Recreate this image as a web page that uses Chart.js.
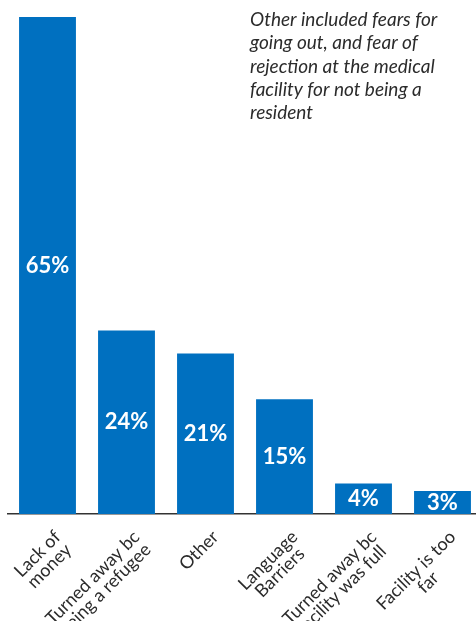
<!DOCTYPE html>
<html>
<head>
<meta charset="utf-8">
<script src="https://cdn.jsdelivr.net/npm/chart.js@4"></script>
<style>
  html, body { margin: 0; padding: 0; background: #fff; overflow: hidden; }
  #wrap { position: relative; width: 482px; height: 621px; }
</style>
</head>
<body>
<div id="wrap"><canvas id="chart"></canvas></div>
<script>
// Lý do không đi khám
const categories = [
  ['Lack of', 'money'],
  ['Turned away bc', 'being a refugee'],
  ['Other'],
  ['Language', 'Barriers'],
  ['Turned away bc', 'facility was full'],
  ['Facility is too', 'far']
];
const percents = [65, 24, 21, 15, 4, 3];
const noteLines = [
  'Other included fears for',
  'going out, and fear of',
  'rejection at the medical',
  'facility for not being a',
  'resident'
];

const barColor = '#0070C0';
const textColor = '#2b2b2b';

// Ghi số phần trăm màu trắng giữa cột
const valueLabels = {
  id: 'valueLabels',
  afterDatasetsDraw(chart) {
    const ctx = chart.ctx;
    const meta = chart.getDatasetMeta(0);
    ctx.save();
    ctx.fillStyle = '#fff';
    ctx.font = 'bold 22px Lato';
    ctx.textAlign = 'center';
    ctx.textBaseline = 'middle';
    meta.data.forEach((bar, i) => {
      const p = bar.getCenterPoint();
      ctx.fillText(percents[i] + '%', p.x, p.y);
    });
    ctx.restore();
  }
};

// Nhãn trục x xoay 45 độ, các dòng căn giữa với nhau
const xLabels = {
  id: 'xLabels',
  afterDraw(chart) {
    const ctx = chart.ctx;
    const x = chart.scales.x;
    const lh = 17;
    const c = Math.SQRT1_2;
    ctx.save();
    ctx.fillStyle = textColor;
    ctx.font = '18px Lato';
    ctx.textAlign = 'center';
    ctx.textBaseline = 'middle';
    categories.forEach((lines, i) => {
      const W = Math.max(...lines.map(s => ctx.measureText(s).width));
      // góc trên bên phải của khối chữ
      const px = x.getPixelForTick(i) + 4;
      const py = x.top + 14;
      lines.forEach((s, j) => {
        const along = -W / 2, down = lh * (j + 0.5);
        const cx = px + along * c + down * c;
        const cy = py - along * c + down * c;
        ctx.save();
        ctx.translate(cx, cy);
        ctx.rotate(-Math.PI / 4);
        ctx.fillText(s, 0, 0);
        ctx.restore();
      });
    });
    ctx.restore();
  }
};

// Ghi chú in nghiêng góc trên bên phải
const note = {
  id: 'note',
  afterDraw(chart) {
    const ctx = chart.ctx;
    ctx.save();
    ctx.fillStyle = textColor;
    ctx.font = 'italic 19px Lato';
    ctx.textAlign = 'left';
    ctx.textBaseline = 'alphabetic';
    noteLines.forEach((line, i) => ctx.fillText(line, 250, 26 + i * 23.3));
    ctx.restore();
  }
};

new Chart(document.getElementById('chart'), {
  type: 'bar',
  data: {
    labels: categories,
    datasets: [{
      data: percents,
      backgroundColor: barColor,
      barPercentage: 0.9,
      categoryPercentage: 0.8
    }]
  },
  options: {
    responsive: true,
    maintainAspectRatio: false,
    animation: false,
    layout: { padding: { top: 17, left: 8, right: 0, bottom: 0 } },
    plugins: {
      legend: { display: false },
      tooltip: { enabled: false }
    },
    scales: {
      x: {
        grid: { display: false, drawTicks: false },
        border: { color: '#333', width: 1.5 },
        ticks: { display: false },
        afterFit: s => {
          s.height = 107;
          s.paddingLeft = 0;
          s.paddingRight = 0;
        }
      },
      y: {
        display: false,
        min: 0,
        max: 65
      }
    }
  },
  plugins: [valueLabels, xLabels, note]
});
</script>
</body>
</html>
